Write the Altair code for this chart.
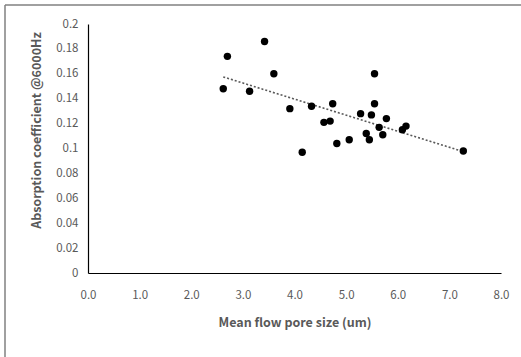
import altair as alt
import pandas as pd

pore_size = [2.62, 2.70, 3.13, 3.42, 3.60, 3.91, 4.15, 4.33, 4.57, 4.69, 4.74, 4.82, 5.06,
             5.28, 5.39, 5.45, 5.49, 5.55, 5.55, 5.64, 5.71, 5.78, 6.09, 6.16, 7.27]
absorption = [0.148, 0.174, 0.146, 0.186, 0.160, 0.132, 0.097, 0.134, 0.121, 0.122, 0.136,
              0.104, 0.107, 0.128, 0.112, 0.107, 0.127, 0.160, 0.136, 0.117, 0.111, 0.124,
              0.115, 0.118, 0.098]
x_ticks = [0, 1, 2, 3, 4, 5, 6, 7, 8]
y_ticks = [0, 0.02, 0.04, 0.06, 0.08, 0.1, 0.12, 0.14, 0.16, 0.18, 0.2]

df = pd.DataFrame({"x": pore_size, "y": absorption})

FONT = "Noto Sans CJK KR"
GRAY = "#595959"

xenc = alt.X("x:Q", scale=alt.Scale(domain=[0, 8], nice=False),
             axis=alt.Axis(values=x_ticks, format=".1f", title="Mean flow pore size (um)",
                           grid=False, ticks=False, domainColor="#000000", domainWidth=1.2,
                           labelPadding=16, titlePadding=16, labelOverlap=False,
                           labelFlush=False))
yenc = alt.Y("y:Q", scale=alt.Scale(domain=[0, 0.2], nice=False),
             axis=alt.Axis(values=y_ticks, format=".2~f", title="Absorption coefficient @6000Hz",
                           grid=False, ticks=False, domainColor="#000000", domainWidth=1.2,
                           labelPadding=10, titlePadding=12, labelOverlap=False,
                           labelFlush=False, titleY=106))

base = alt.Chart(df)

points = base.mark_circle(size=55, color="#000000", opacity=1).encode(x=xenc, y=yenc)

trend = base.transform_regression("x", "y").mark_line(
    color=GRAY, strokeDash=[2, 2], strokeWidth=1.6
).encode(x=xenc, y=yenc)

border_top = alt.Chart(pd.DataFrame({"a": [0]})).mark_rule(color="#808080", strokeWidth=1.5).encode(
    x=alt.value(-83), x2=alt.value(600), y=alt.value(-19))
border_left = alt.Chart(pd.DataFrame({"a": [0]})).mark_rule(color="#808080", strokeWidth=1.5).encode(
    x=alt.value(-83), y=alt.value(-19), y2=alt.value(400))

chart = alt.layer(trend, points, border_top, border_left).properties(
    width=413, height=249,
    autosize=alt.AutoSizeParams(type="none"),
    padding={"left": 88, "top": 24, "right": 20, "bottom": 84},
    background="white",
).configure_view(stroke=None).configure_axis(
    labelFont=FONT, labelFontSize=11.5, labelColor=GRAY,
    titleFont=FONT, titleFontSize=12.5, titleFontWeight="bold", titleColor=GRAY,
)

chart.save("out.html", embed_options={"renderer": "svg", "actions": False})
